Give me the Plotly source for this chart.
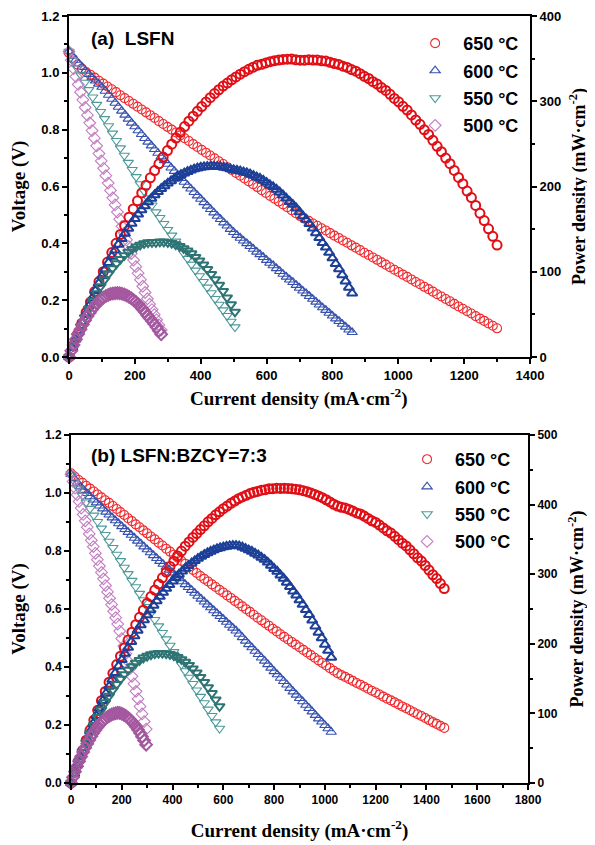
import plotly.graph_objects as go

# ── Data ──────────────────────────────────────────────────────────────────────
# current density in mA/cm2, voltage in V

# (a) LSFN
I_A650 = [0, 13, 26, 39, 52, 65, 78, 91, 104, 117, 130, 143, 156, 169, 182, 195, 208,
          221, 234, 247, 260, 273, 286, 299, 312, 325, 338, 351, 364, 377, 390, 403,
          416, 429, 442, 455, 468, 481, 494, 507, 520, 533, 546, 559, 572, 585, 598,
          611, 624, 637, 650, 663, 676, 689, 702, 715, 728, 741, 754, 767, 780, 793,
          806, 819, 832, 845, 858, 871, 884, 897, 910, 923, 936, 949, 962, 975, 988,
          1001, 1014, 1027, 1040, 1053, 1066, 1079, 1092, 1105, 1118, 1131, 1144, 1157,
          1170, 1183, 1196, 1209, 1222, 1235, 1248, 1261, 1274, 1287, 1300]
V_A650 = [1.070, 1.048, 1.029, 1.015, 1.003, 0.993, 0.983, 0.972, 0.962, 0.952, 0.942,
          0.932, 0.921, 0.911, 0.901, 0.891, 0.881, 0.871, 0.861, 0.851, 0.841, 0.830,
          0.820, 0.810, 0.800, 0.790, 0.780, 0.770, 0.760, 0.749, 0.739, 0.729, 0.719,
          0.709, 0.699, 0.689, 0.679, 0.668, 0.658, 0.648, 0.638, 0.628, 0.618, 0.608,
          0.598, 0.587, 0.577, 0.567, 0.557, 0.547, 0.537, 0.527, 0.517, 0.506, 0.496,
          0.487, 0.479, 0.470, 0.462, 0.453, 0.445, 0.436, 0.427, 0.419, 0.410, 0.402,
          0.393, 0.385, 0.376, 0.367, 0.359, 0.350, 0.342, 0.333, 0.325, 0.316, 0.307,
          0.299, 0.290, 0.282, 0.273, 0.264, 0.256, 0.247, 0.239, 0.230, 0.221, 0.213,
          0.204, 0.196, 0.187, 0.178, 0.170, 0.161, 0.153, 0.144, 0.135, 0.127, 0.118,
          0.110, 0.101]

I_A600 = [0, 10, 20, 30, 40, 50, 60, 70, 80, 90, 100, 110, 120, 130, 140, 150, 160, 170,
          180, 190, 200, 210, 220, 230, 240, 250, 260, 270, 280, 290, 300, 310, 320,
          330, 340, 350, 360, 370, 380, 390, 400, 410, 420, 430, 440, 450, 460, 470,
          480, 490, 500, 510, 520, 530, 540, 550, 560, 570, 580, 590, 600, 610, 620,
          630, 640, 650, 660, 670, 680, 690, 700, 710, 720, 730, 740, 750, 760, 770,
          780, 790, 800, 810, 820, 830, 840, 850, 860]
V_A600 = [1.075, 1.059, 1.045, 1.032, 1.020, 1.007, 0.995, 0.983, 0.972, 0.961, 0.950,
          0.936, 0.922, 0.908, 0.894, 0.880, 0.866, 0.852, 0.838, 0.824, 0.811, 0.797,
          0.784, 0.770, 0.757, 0.744, 0.731, 0.718, 0.705, 0.692, 0.679, 0.666, 0.654,
          0.641, 0.629, 0.616, 0.604, 0.592, 0.580, 0.568, 0.556, 0.544, 0.532, 0.520,
          0.508, 0.496, 0.485, 0.473, 0.462, 0.450, 0.439, 0.429, 0.419, 0.409, 0.400,
          0.390, 0.380, 0.370, 0.361, 0.351, 0.341, 0.331, 0.322, 0.312, 0.302, 0.292,
          0.282, 0.272, 0.263, 0.253, 0.243, 0.233, 0.224, 0.214, 0.204, 0.194, 0.184,
          0.174, 0.165, 0.155, 0.145, 0.135, 0.126, 0.116, 0.106, 0.096, 0.087]

I_A550 = [0, 12, 24, 36, 48, 60, 72, 84, 96, 108, 120, 132, 144, 156, 168, 180, 192,
          204, 216, 228, 240, 252, 264, 276, 288, 300, 312, 324, 336, 348, 360, 372,
          384, 396, 408, 420, 432, 444, 456, 468, 480, 492, 504]
V_A550 = [1.075, 1.045, 1.018, 0.992, 0.966, 0.940, 0.914, 0.888, 0.863, 0.838, 0.813,
          0.787, 0.761, 0.735, 0.709, 0.684, 0.659, 0.634, 0.609, 0.584, 0.559, 0.534,
          0.510, 0.490, 0.469, 0.448, 0.428, 0.407, 0.387, 0.366, 0.346, 0.326, 0.305,
          0.285, 0.265, 0.245, 0.225, 0.205, 0.185, 0.165, 0.145, 0.125, 0.105]

I_A500 = [0, 7, 14, 21, 28, 35, 42, 49, 56, 63, 70, 77, 84, 91, 98, 105, 112, 119, 126,
          133, 140, 147, 154, 161, 168, 175, 182, 189, 196, 203, 210, 217, 224, 231,
          238, 245, 252, 259, 266, 273, 280]
V_A500 = [1.075, 1.044, 1.015, 0.987, 0.959, 0.932, 0.905, 0.878, 0.851, 0.824, 0.797,
          0.770, 0.743, 0.716, 0.690, 0.664, 0.638, 0.612, 0.586, 0.560, 0.535, 0.510,
          0.485, 0.460, 0.436, 0.412, 0.388, 0.364, 0.341, 0.318, 0.295, 0.272, 0.249,
          0.227, 0.205, 0.186, 0.167, 0.149, 0.131, 0.113, 0.095]

# (b) LSFN:BZCY=7:3
I_B650 = [0, 15, 30, 45, 60, 75, 90, 105, 120, 135, 150, 165, 180, 195, 210, 225, 240,
          255, 270, 285, 300, 315, 330, 345, 360, 375, 390, 405, 420, 435, 450, 465,
          480, 495, 510, 525, 540, 555, 570, 585, 600, 615, 630, 645, 660, 675, 690,
          705, 720, 735, 750, 765, 780, 795, 810, 825, 840, 855, 870, 885, 900, 915,
          930, 945, 960, 975, 990, 1005, 1020, 1035, 1050, 1065, 1080, 1095, 1110, 1125,
          1140, 1155, 1170, 1185, 1200, 1215, 1230, 1245, 1260, 1275, 1290, 1305, 1320,
          1335, 1350, 1365, 1380, 1395, 1410, 1425, 1440, 1455, 1470]
V_B650 = [1.068, 1.056, 1.045, 1.035, 1.025, 1.015, 1.005, 0.995, 0.985, 0.975, 0.966,
          0.955, 0.945, 0.934, 0.924, 0.913, 0.903, 0.892, 0.882, 0.871, 0.861, 0.850,
          0.840, 0.829, 0.819, 0.808, 0.798, 0.787, 0.777, 0.766, 0.756, 0.745, 0.735,
          0.724, 0.714, 0.704, 0.695, 0.685, 0.676, 0.666, 0.657, 0.647, 0.638, 0.628,
          0.619, 0.609, 0.599, 0.590, 0.580, 0.570, 0.561, 0.551, 0.542, 0.532, 0.523,
          0.513, 0.504, 0.495, 0.486, 0.477, 0.468, 0.459, 0.450, 0.441, 0.432, 0.423,
          0.414, 0.405, 0.396, 0.387, 0.379, 0.372, 0.366, 0.359, 0.352, 0.345, 0.339,
          0.332, 0.325, 0.318, 0.312, 0.305, 0.298, 0.291, 0.285, 0.278, 0.271, 0.264,
          0.258, 0.251, 0.244, 0.237, 0.231, 0.224, 0.217, 0.210, 0.204, 0.197, 0.190]

I_B600 = [0, 12.5, 25, 37.5, 50, 62.5, 75, 87.5, 100, 112.5, 125, 137.5, 150, 162.5,
          175, 187.5, 200, 212.5, 225, 237.5, 250, 262.5, 275, 287.5, 300, 312.5, 325,
          337.5, 350, 362.5, 375, 387.5, 400, 412.5, 425, 437.5, 450, 462.5, 475, 487.5,
          500, 512.5, 525, 537.5, 550, 562.5, 575, 587.5, 600, 612.5, 625, 637.5, 650,
          662.5, 675, 687.5, 700, 712.5, 725, 737.5, 750, 762.5, 775, 787.5, 800, 812.5,
          825, 837.5, 850, 862.5, 875, 887.5, 900, 912.5, 925, 937.5, 950, 962.5, 975,
          987.5, 1000, 1012.5, 1025]
V_B600 = [1.065, 1.050, 1.035, 1.022, 1.010, 0.999, 0.988, 0.977, 0.967, 0.956, 0.946,
          0.935, 0.925, 0.915, 0.905, 0.895, 0.885, 0.875, 0.865, 0.855, 0.845, 0.835,
          0.825, 0.815, 0.805, 0.795, 0.785, 0.775, 0.765, 0.755, 0.745, 0.735, 0.725,
          0.715, 0.705, 0.695, 0.685, 0.675, 0.665, 0.655, 0.645, 0.635, 0.625, 0.615,
          0.605, 0.595, 0.585, 0.575, 0.565, 0.555, 0.545, 0.535, 0.525, 0.514, 0.502,
          0.490, 0.478, 0.467, 0.455, 0.444, 0.432, 0.421, 0.409, 0.397, 0.385, 0.374,
          0.362, 0.351, 0.339, 0.327, 0.315, 0.304, 0.292, 0.281, 0.269, 0.258, 0.246,
          0.234, 0.222, 0.211, 0.199, 0.188, 0.176]

I_B550 = [0, 15, 30, 45, 60, 75, 90, 105, 120, 135, 150, 165, 180, 195, 210, 225, 240,
          255, 270, 285, 300, 315, 330, 345, 360, 375, 390, 405, 420, 435, 450, 465,
          480, 495, 510, 525, 540, 555, 570, 585]
V_B550 = [1.065, 1.038, 1.014, 0.991, 0.968, 0.946, 0.923, 0.901, 0.878, 0.856, 0.833,
          0.811, 0.788, 0.766, 0.743, 0.721, 0.698, 0.676, 0.653, 0.631, 0.608, 0.586,
          0.563, 0.541, 0.518, 0.496, 0.474, 0.452, 0.430, 0.408, 0.386, 0.364, 0.342,
          0.320, 0.298, 0.276, 0.254, 0.232, 0.210, 0.188]

I_B500 = [0, 8, 16, 24, 32, 40, 48, 56, 64, 72, 80, 88, 96, 104, 112, 120, 128, 136,
          144, 152, 160, 168, 176, 184, 192, 200, 208, 216, 224, 232, 240, 248, 256,
          264, 272, 280, 288, 296]
V_B500 = [1.065, 1.040, 1.017, 0.994, 0.971, 0.948, 0.926, 0.904, 0.882, 0.859, 0.837,
          0.815, 0.792, 0.770, 0.748, 0.726, 0.704, 0.681, 0.659, 0.637, 0.615, 0.592,
          0.570, 0.548, 0.524, 0.498, 0.472, 0.446, 0.420, 0.394, 0.368, 0.342, 0.316,
          0.290, 0.264, 0.238, 0.212, 0.186]

TEMPS = ["650 °C", "600 °C", "550 °C", "500 °C"]
SYMBOLS = ["circle-open", "triangle-up-open", "triangle-down-open", "diamond-open"]
V_COLORS = ["#F0282D", "#3550AE", "#4E9999", "#C27DC2"]
P_COLORS = ["#E10E16", "#1C3F98", "#2F7474", "#A4589F"]

PANEL_A = [(I_A650, V_A650), (I_A600, V_A600), (I_A550, V_A550), (I_A500, V_A500)]
PANEL_B = [(I_B650, V_B650), (I_B600, V_B600), (I_B550, V_B550), (I_B500, V_B500)]


def power(i, v):
    # power density (mW/cm2) = current density (mA/cm2) x cell voltage (V)
    return [round(a * b, 1) for a, b in zip(i, v)]


# ── Figure ────────────────────────────────────────────────────────────────────

fig = go.Figure()

for panel, xa, yv, yp, leg in [(PANEL_A, "x", "y", "y2", "legend"),
                               (PANEL_B, "x2", "y3", "y4", "legend2")]:
    for k, (cur, volt) in enumerate(panel):
        fig.add_trace(go.Scatter(
            x=cur, y=volt, xaxis=xa, yaxis=yv, mode="markers", name=TEMPS[k],
            marker=dict(symbol=SYMBOLS[k], size=9, color=V_COLORS[k],
                        line=dict(width=1.1, color=V_COLORS[k])),
            legend=leg, legendgroup=f"{leg}{k}", cliponaxis=False,
        ))
        fig.add_trace(go.Scatter(
            x=cur, y=power(cur, volt), xaxis=xa, yaxis=yp, mode="markers",
            marker=dict(symbol=SYMBOLS[k], size=9, color=P_COLORS[k],
                        line=dict(width=2, color=P_COLORS[k])),
            showlegend=False, cliponaxis=False,
        ))

TICKFONT = dict(family="Liberation Sans", size=13, color="black", weight="bold")
TITLEFONT = dict(family="Liberation Serif", size=19, color="black", weight="bold")
LEGFONT = dict(family="Liberation Sans", size=18, color="black", weight="bold")
LABELFONT = dict(family="Liberation Sans", size=19, color="black", weight="bold")


def axis(rng, dtick, minor, **kw):
    d = dict(range=rng, dtick=dtick, tick0=0, showline=True, linewidth=2,
             linecolor="black", ticks="outside", ticklen=5, tickwidth=2,
             tickcolor="black", showgrid=False, zeroline=False, automargin=False,
             minor=dict(dtick=minor, ticks="outside", ticklen=3, tickwidth=1.5,
                        tickcolor="black"),
             tickfont=TICKFONT)
    d.update(kw)
    return d


X_TITLE = "Current density (mA·cm<sup>-2</sup>)"
V_TITLE = "Voltage (V)"
P_TITLE = "Power density (mW·cm<sup>-2</sup>)"

# the page body adds an 8 px margin, so the figure is 8 px smaller than the window
fig.update_layout(
    width=587, height=837,
    margin=dict(l=61, r=65, t=8, b=62),
    paper_bgcolor="white", plot_bgcolor="white",
    xaxis=axis([0, 1400], 200, 100, domain=[0, 1], anchor="y", mirror=True),
    yaxis=axis([0, 1.2], 0.2, 0.1, domain=[0.5554, 1], anchor="x", tickformat=".1f",
               title=dict(text=V_TITLE, font=TITLEFONT, standoff=14)),
    yaxis2=axis([0, 400], 100, 50, overlaying="y", side="right", anchor="x",
                title=dict(text=P_TITLE, font=dict(TITLEFONT, size=18), standoff=12)),
    xaxis2=axis([0, 1800], 200, 100, domain=[0.0043, 0.9957], anchor="y3", mirror=True,
                tickfont=dict(TICKFONT, size=12),
                title=dict(text=X_TITLE, font=TITLEFONT, standoff=17)),
    yaxis3=axis([0, 1.2], 0.2, 0.1, domain=[0, 0.4537], anchor="x2", tickformat=".1f",
                tickfont=dict(TICKFONT, size=12),
                title=dict(text=V_TITLE, font=TITLEFONT, standoff=16)),
    yaxis4=axis([0, 500], 100, 50, overlaying="y3", side="right", anchor="x2",
                tickfont=dict(TICKFONT, size=12),
                title=dict(text=P_TITLE, font=dict(TITLEFONT, size=18), standoff=14)),
    legend=dict(x=0.7335, y=0.9883, xanchor="left", yanchor="top", font=LEGFONT,
                itemwidth=46, tracegroupgap=1, bgcolor="rgba(0,0,0,0)"),
    legend2=dict(x=0.716, y=0.4459, xanchor="left", yanchor="top", font=LEGFONT,
                 itemwidth=46, tracegroupgap=1, bgcolor="rgba(0,0,0,0)"),
    annotations=[
        dict(text="(a)\u00a0\u00a0LSFN", x=0.0434, y=0.9713, xref="paper", yref="paper",
             xanchor="left", yanchor="middle", showarrow=False, font=LABELFONT),
        dict(text="(b) LSFN:BZCY=7:3", x=0.0434, y=0.4276, xref="paper", yref="paper",
             xanchor="left", yanchor="middle", showarrow=False, font=LABELFONT),
        # x title of panel (a) sits closer to its tick labels than a standoff allows
        dict(text=X_TITLE, x=0.499, y=0.502, xref="paper", yref="paper",
             xanchor="center", yanchor="middle", showarrow=False, font=TITLEFONT),
    ],
)

fig.write_html("out.html")
